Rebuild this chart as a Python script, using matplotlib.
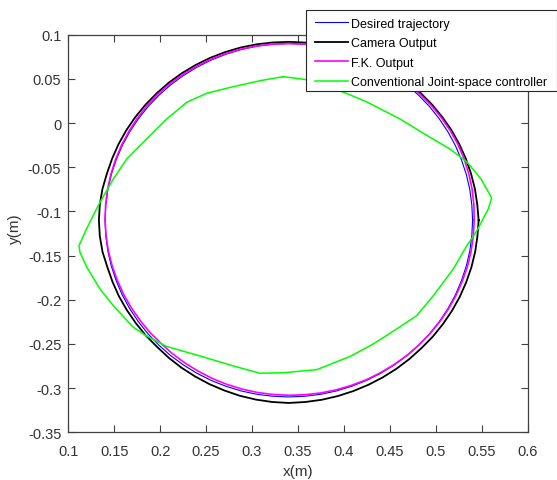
import matplotlib
matplotlib.use("Agg")
import matplotlib.pyplot as plt
from matplotlib.patches import Rectangle

plt.rcParams['font.family'] = ['Liberation Sans', 'DejaVu Sans']

# ---- data (x, y in metres) ----
desired_x = [0.5400, 0.5392, 0.5370, 0.5332, 0.5279, 0.5213, 0.5132, 0.5038, 0.4932, 0.4814,
             0.4686, 0.4547, 0.4400, 0.4245, 0.4084, 0.3918, 0.3747, 0.3574, 0.3400, 0.3226,
             0.3053, 0.2882, 0.2716, 0.2555, 0.2400, 0.2253, 0.2114, 0.1986, 0.1868, 0.1762,
             0.1668, 0.1587, 0.1521, 0.1468, 0.1430, 0.1408, 0.1400, 0.1408, 0.1430, 0.1468,
             0.1521, 0.1587, 0.1668, 0.1762, 0.1868, 0.1986, 0.2114, 0.2253, 0.2400, 0.2555,
             0.2716, 0.2882, 0.3053, 0.3226, 0.3400, 0.3574, 0.3747, 0.3918, 0.4084, 0.4245,
             0.4400, 0.4547, 0.4686, 0.4814, 0.4932, 0.5038, 0.5132, 0.5213, 0.5279, 0.5332,
             0.5370, 0.5392, 0.5400]
desired_y = [-0.1100, -0.0926, -0.0753, -0.0582, -0.0416, -0.0255, -0.0100, 0.0047, 0.0186, 0.0314,
             0.0432, 0.0538, 0.0632, 0.0713, 0.0779, 0.0832, 0.0870, 0.0892, 0.0900, 0.0892,
             0.0870, 0.0832, 0.0779, 0.0713, 0.0632, 0.0538, 0.0432, 0.0314, 0.0186, 0.0047,
             -0.0100, -0.0255, -0.0416, -0.0582, -0.0753, -0.0926, -0.1100, -0.1274, -0.1447, -0.1618,
             -0.1784, -0.1945, -0.2100, -0.2247, -0.2386, -0.2514, -0.2632, -0.2738, -0.2832, -0.2913,
             -0.2979, -0.3032, -0.3070, -0.3092, -0.3100, -0.3092, -0.3070, -0.3032, -0.2979, -0.2913,
             -0.2832, -0.2738, -0.2632, -0.2514, -0.2386, -0.2247, -0.2100, -0.1945, -0.1784, -0.1618,
             -0.1447, -0.1274, -0.1100]

camera_x = [0.5466, 0.5451, 0.5425, 0.5382, 0.5325, 0.5254, 0.5169, 0.5069, 0.4959, 0.4837,
            0.4706, 0.4563, 0.4413, 0.4255, 0.4091, 0.3923, 0.3750, 0.3576, 0.3400, 0.3224,
            0.3049, 0.2876, 0.2707, 0.2544, 0.2386, 0.2236, 0.2094, 0.1963, 0.1841, 0.1731,
            0.1633, 0.1548, 0.1478, 0.1421, 0.1372, 0.1343, 0.1333, 0.1343, 0.1372, 0.1425,
            0.1482, 0.1552, 0.1638, 0.1736, 0.1845, 0.1967, 0.2094, 0.2232, 0.2380, 0.2536,
            0.2699, 0.2868, 0.3043, 0.3220, 0.3400, 0.3580, 0.3758, 0.3933, 0.4103, 0.4267,
            0.4425, 0.4574, 0.4715, 0.4845, 0.4967, 0.5077, 0.5175, 0.5260, 0.5330, 0.5387,
            0.5428, 0.5453, 0.5466]
camera_y = [-0.1100, -0.0921, -0.0743, -0.0568, -0.0399, -0.0235, -0.0078, 0.0070, 0.0209, 0.0338,
            0.0456, 0.0562, 0.0656, 0.0736, 0.0800, 0.0853, 0.0890, 0.0911, 0.0919, 0.0912,
            0.0891, 0.0855, 0.0803, 0.0738, 0.0657, 0.0564, 0.0457, 0.0338, 0.0209, 0.0070,
            -0.0079, -0.0236, -0.0400, -0.0569, -0.0744, -0.0921, -0.1100, -0.1279, -0.1456, -0.1630,
            -0.1799, -0.1962, -0.2118, -0.2266, -0.2406, -0.2534, -0.2657, -0.2769, -0.2868, -0.2955,
            -0.3027, -0.3087, -0.3130, -0.3157, -0.3168, -0.3157, -0.3132, -0.3090, -0.3033, -0.2962,
            -0.2877, -0.2779, -0.2668, -0.2546, -0.2417, -0.2276, -0.2126, -0.1968, -0.1803, -0.1633,
            -0.1458, -0.1280, -0.1100]

fk_x = [0.5418, 0.5414, 0.5395, 0.5359, 0.5308, 0.5241, 0.5157, 0.5059, 0.4949, 0.4827,
        0.4696, 0.4554, 0.4405, 0.4248, 0.4086, 0.3919, 0.3747, 0.3574, 0.3400, 0.3226,
        0.3052, 0.2881, 0.2713, 0.2551, 0.2395, 0.2246, 0.2104, 0.1974, 0.1856, 0.1751,
        0.1659, 0.1579, 0.1514, 0.1463, 0.1427, 0.1406, 0.1400, 0.1411, 0.1436, 0.1477,
        0.1533, 0.1602, 0.1685, 0.1781, 0.1888, 0.2007, 0.2132, 0.2269, 0.2413, 0.2565,
        0.2724, 0.2888, 0.3057, 0.3228, 0.3400, 0.3573, 0.3745, 0.3915, 0.4081, 0.4242,
        0.4397, 0.4545, 0.4685, 0.4814, 0.4934, 0.5042, 0.5138, 0.5221, 0.5289, 0.5345,
        0.5384, 0.5408, 0.5418]
fk_y = [-0.1100, -0.0924, -0.0748, -0.0574, -0.0405, -0.0242, -0.0085, 0.0062, 0.0201, 0.0328,
        0.0444, 0.0548, 0.0641, 0.0720, 0.0784, 0.0835, 0.0872, 0.0893, 0.0900, 0.0894,
        0.0873, 0.0837, 0.0786, 0.0722, 0.0642, 0.0549, 0.0444, 0.0326, 0.0196, 0.0055,
        -0.0094, -0.0251, -0.0413, -0.0581, -0.0752, -0.0926, -0.1100, -0.1274, -0.1446, -0.1615,
        -0.1779, -0.1938, -0.2090, -0.2233, -0.2369, -0.2492, -0.2609, -0.2715, -0.2808, -0.2890,
        -0.2957, -0.3010, -0.3049, -0.3072, -0.3081, -0.3075, -0.3055, -0.3020, -0.2969, -0.2906,
        -0.2826, -0.2734, -0.2630, -0.2514, -0.2387, -0.2250, -0.2103, -0.1949, -0.1788, -0.1622,
        -0.1450, -0.1276, -0.1100]

joint_x = [0.3337, 0.3576, 0.3990, 0.4251, 0.4610, 0.4904, 0.5154, 0.5339, 0.5492, 0.5608,
           0.5571, 0.5445, 0.5336, 0.5190, 0.4973, 0.4792, 0.4574, 0.4320, 0.4066, 0.3704,
           0.3340, 0.3086, 0.2796, 0.2433, 0.2071, 0.1853, 0.1707, 0.1490, 0.1345, 0.1200,
           0.1127, 0.1116, 0.1198, 0.1329, 0.1490, 0.1636, 0.1853, 0.2071, 0.2289, 0.2506,
           0.2796, 0.3086, 0.3337]
joint_y = [0.0525, 0.0493, 0.0352, 0.0238, 0.0046, -0.0141, -0.0294, -0.0441, -0.0633, -0.0848,
           -0.0973, -0.1222, -0.1391, -0.1652, -0.1954, -0.2180, -0.2331, -0.2500, -0.2642, -0.2791,
           -0.2826, -0.2832, -0.2749, -0.2636, -0.2529, -0.2410, -0.2311, -0.2067, -0.1878, -0.1629,
           -0.1463, -0.1388, -0.1199, -0.0927, -0.0633, -0.0407, -0.0180, 0.0046, 0.0235, 0.0337,
           0.0412, 0.0479, 0.0525]

series_labels = ['Desired trajectory', 'Camera Output', 'F.K. Output',
                 'Conventional Joint-space controller']

x_ticks = [0.1, 0.15, 0.2, 0.25, 0.3, 0.35, 0.4, 0.45, 0.5, 0.55, 0.6]
x_tick_labels = ['0.1', '0.15', '0.2', '0.25', '0.3', '0.35', '0.4', '0.45', '0.5', '0.55', '0.6']
y_ticks = [-0.35, -0.3, -0.25, -0.2, -0.15, -0.1, -0.05, 0.0, 0.05, 0.1]
y_tick_labels = ['-0.35', '-0.3', '-0.25', '-0.2', '-0.15', '-0.1', '-0.05', '0', '0.05', '0.1']

# ---- figure ----
W, H = 557, 481
fig = plt.figure(figsize=(W / 100, H / 100), dpi=100)
ax_l, ax_r, ax_t, ax_b = 68.3, 527.7, 35.7, 433.3
ax = fig.add_axes([ax_l / W, 1 - ax_b / H, (ax_r - ax_l) / W, (ax_b - ax_t) / H])

ax.plot(desired_x, desired_y, color='#0000ff', lw=0.8, label=series_labels[0])
ax.plot(camera_x, camera_y, color='#000000', lw=1.3, label=series_labels[1])
ax.plot(fk_x, fk_y, color='#ff00ff', lw=1.2, label=series_labels[2])
ax.plot(joint_x, joint_y, color='#00ff00', lw=1.1, label=series_labels[3])

ax.set_xlim(0.1, 0.6)
ax.set_ylim(-0.35, 0.1)
ax.set_xticks(x_ticks)
ax.set_xticklabels(x_tick_labels)
ax.set_yticks(y_ticks)
ax.set_yticklabels(y_tick_labels)

spine_c = '#404040'
for s in ax.spines.values():
    s.set_color(spine_c)
    s.set_linewidth(0.9)
ax.tick_params(direction='in', length=5, width=0.8, color=spine_c,
               top=True, right=True, labelsize=10.5, labelcolor='#333333')
ax.tick_params(axis='x', pad=8.5)
ax.tick_params(axis='y', pad=5)

ax.set_xlabel('x(m)', fontsize=11, color='#333333', va='center')
ax.set_ylabel('y(m)', fontsize=11, color='#333333', va='center')
ax.xaxis.set_label_coords(0.5, (ax_b - 472.0) / (ax_b - ax_t))
ax.yaxis.set_label_coords((15.0 - ax_l) / (ax_r - ax_l), (ax_b - 229.0) / (ax_b - ax_t))

# legend frame (placed like the original, partly outside the axes)
frame = Rectangle((306 / W, 1 - 91.7 / H), 250.5 / W, (91.7 - 11) / H,
                  transform=fig.transFigure, facecolor='white', edgecolor='#262626',
                  lw=0.8, zorder=4)
fig.add_artist(frame)
leg = fig.legend(loc='upper left', bbox_to_anchor=(315 / W, 1 - 18.6 / H),
                 fontsize=9, frameon=False, borderpad=0, handlelength=2.65,
                 handletextpad=0.25, labelspacing=0.6, borderaxespad=0)
leg.set_zorder(5)

fig.savefig('out.png', dpi=100)
